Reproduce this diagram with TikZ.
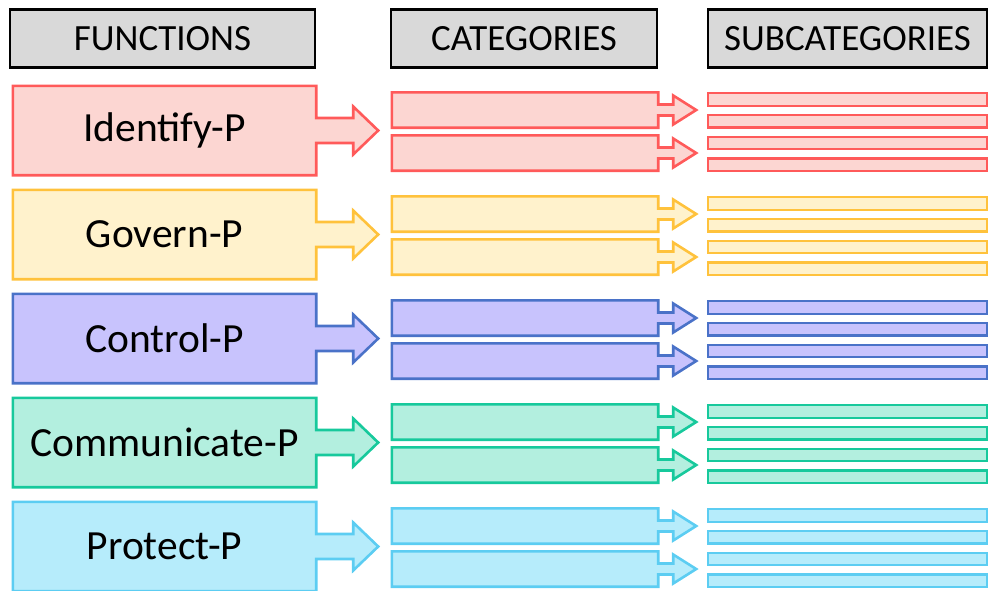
\documentclass[tikz,border=0pt]{standalone}
\usepackage{fontspec}
\setmainfont{Carlito}
\usetikzlibrary{calc,backgrounds}
\definecolor{rd}{HTML}{FF5A5A}\definecolor{rf}{HTML}{FCD6D2}
\definecolor{yd}{HTML}{FFC23C}\definecolor{yf}{HTML}{FFF2CC}
\definecolor{bd}{HTML}{4A72C8}\definecolor{bf}{HTML}{C8C3FD}
\definecolor{gd}{HTML}{17C99C}\definecolor{gf}{HTML}{B3EFDF}
\definecolor{cd}{HTML}{5CCDF2}\definecolor{cf}{HTML}{B6ECFB}
\definecolor{hf}{HTML}{D9D9D9}
\tikzset{
  hdr/.style={draw=black, fill=hf, line width=2.5pt, inner sep=0pt, minimum height=58pt,
    font=\fontsize{37}{44}\selectfont},
  funcbox/.style={inner sep=0pt, minimum width=303pt, minimum height=89pt,
    font=\fontsize{41.5}{50}\selectfont},
  catbox/.style={inner sep=0pt, minimum width=266pt, minimum height=35pt},
  subbox/.style={inner sep=0pt, minimum width=279pt, minimum height=12.5pt, line width=2.3pt},
  outl/.style={line width=2.6pt, line join=miter}
}
\begin{document}
\begin{tikzpicture}[x=1pt,y=-1pt]
\useasboundingbox (0,0) rectangle (990,590);
\node[hdr, minimum width=305pt] (hfun) at (162.5,38.5) {FUNCTIONS};
\node[hdr, minimum width=266pt] (hcat) at (524,38.5) {CATEGORIES};
\node[hdr, minimum width=279pt] (hsub) at (847.5,38.5) {SUBCATEGORIES};
\foreach \i/\name/\dc/\fc in {0/Identify-P/rd/rf, 1/Govern-P/yd/yf, 2/Control-P/bd/bf, 3/Communicate-P/gd/gf, 4/Protect-P/cd/cf}{
  \pgfmathsetmacro\T{86+104*\i}
  \node[funcbox] (f\i) at (164.5,{\T+44.5}) {\name};
  \begin{scope}[on background layer]
    \filldraw[outl, draw=\dc, fill=\fc] (f\i.north west) -- (f\i.north east)
      -- ($(f\i.east)+(0,-12.5)$) -- ++(37,0) -- ++(0,-11.5) -- ++(25,24) -- ++(-25,24)
      -- ++(0,-11.5) -- ++(-37,0) -- (f\i.south east) -- (f\i.south west) -- cycle;
  \end{scope}
  \foreach \j in {0,1}{
    \node[catbox] (c\i\j) at (525,{\T+24+43*\j}) {};
    \filldraw[outl, draw=\dc, fill=\fc] (c\i\j.north west) -- (c\i\j.north east)
      -- ($(c\i\j.east)+(0,-5.5)$) -- ++(15,0) -- ++(0,-9) -- ++(23,14.5) -- ++(-23,14.5)
      -- ++(0,-9) -- ++(-15,0) -- (c\i\j.south east) -- (c\i\j.south west) -- cycle;
  }
  \foreach \k in {0,1,2,3}{
    \node[subbox, draw=\dc, fill=\fc] (s\i\k) at (847.5,{\T+13.5+21.7*\k}) {};
  }
}
\end{tikzpicture}
\end{document}
